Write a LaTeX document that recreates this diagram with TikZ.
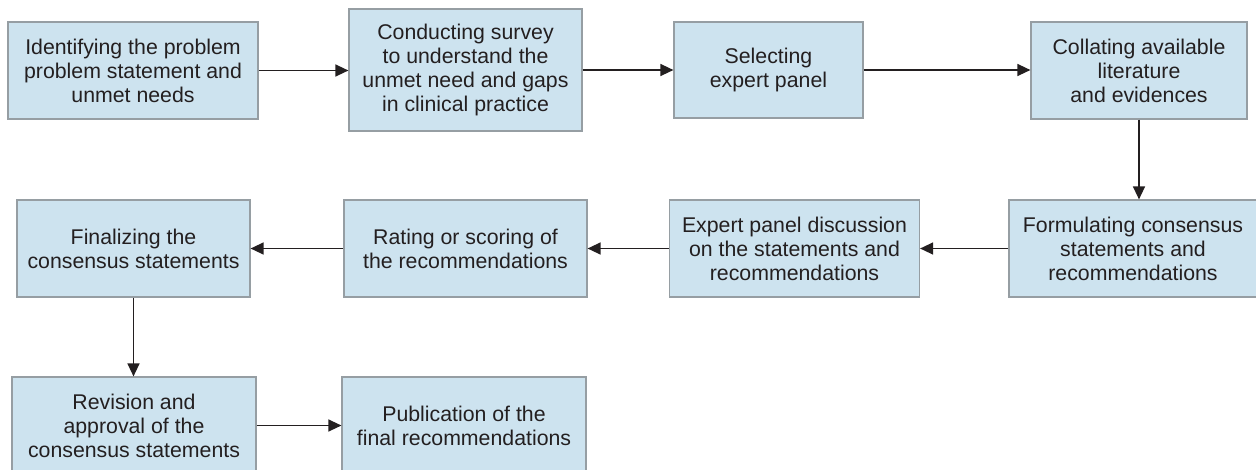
\documentclass[tikz,border=0pt]{standalone}
\usepackage{fontspec}
\setmainfont{Liberation Sans}
\usetikzlibrary{arrows.meta}
\definecolor{boxfill}{RGB}{205,227,239}
\definecolor{boxline}{RGB}{150,158,163}
\definecolor{txt}{RGB}{35,31,32}
\tikzset{
  stepbox/.style={draw=boxline, fill=boxfill, line width=1.2pt, inner sep=0pt,
    align=center, text=txt, font=\fontsize{21.3}{24}\selectfont},
  flow/.style={draw=txt, line width=1.4pt, -{Triangle[length=13pt,width=12pt]}}
}
\begin{document}
\begin{tikzpicture}[x=1pt,y=-1pt]
\useasboundingbox (0,0) rectangle (1256,469);
\clip (0,0) rectangle (1256,469);
\node[stepbox, minimum width=250pt, minimum height=97pt] (b1) at (133,70.5)
  {Identifying the problem\\problem statement and\\unmet needs};
\node[stepbox, minimum width=233pt, minimum height=122pt] (b2) at (465.5,70)
  {Conducting survey\\to understand the\\unmet need and gaps\\in clinical practice};
\node[stepbox, minimum width=189pt, minimum height=96pt] (b3) at (768.5,70)
  {Selecting\\expert panel};
\node[stepbox, minimum width=216pt, minimum height=97pt] (b4) at (1139,70.5)
  {Collating available\\literature\\and evidences};
\node[stepbox, minimum width=248pt, minimum height=97pt] (b5) at (1133,248.5)
  {Formulating consensus\\statements and\\recommendations};
\node[stepbox, minimum width=250pt, minimum height=97pt] (b6) at (794.5,248.5)
  {Expert panel discussion\\on the statements and\\recommendations};
\node[stepbox, minimum width=243pt, minimum height=97pt] (b7) at (465.5,248.5)
  {Rating or scoring of\\the recommendations};
\node[stepbox, minimum width=233pt, minimum height=97pt] (b8) at (133.5,248.5)
  {Finalizing the\\consensus statements};
\node[stepbox, minimum width=244pt, minimum height=97pt] (b9) at (134,425.5)
  {Revision and\\approval of the\\consensus statements};
\node[stepbox, minimum width=244pt, minimum height=97pt] (b10) at (464,425.5)
  {Publication of the\\final recommendations};
\draw[flow] (b1.east) -- (b1.east -| b2.west);
\draw[flow] (b2.east) -- (b2.east -| b3.west);
\draw[flow] (b3.east) -- (b3.east -| b4.west);
\draw[flow] (b4.south) -- (b4.south |- b5.north);
\draw[flow] (b5.west) -- (b5.west -| b6.east);
\draw[flow] (b6.west) -- (b6.west -| b7.east);
\draw[flow] (b7.west) -- (b7.west -| b8.east);
\draw[flow] (b8.south) -- (b8.south |- b9.north);
\draw[flow] (b9.east) -- (b9.east -| b10.west);
\end{tikzpicture}
\end{document}
